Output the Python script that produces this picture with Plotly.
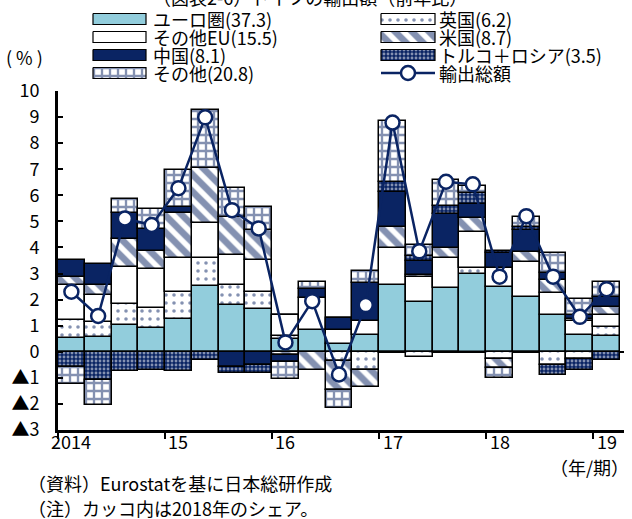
import plotly.graph_objects as go

# ---------------- data (2014Q1 .. 2019Q1) ----------------
quarters = ["2014Q1", "2014Q2", "2014Q3", "2014Q4", "2015Q1", "2015Q2", "2015Q3", "2015Q4",
            "2016Q1", "2016Q2", "2016Q3", "2016Q4", "2017Q1", "2017Q2", "2017Q3", "2017Q4",
            "2018Q1", "2018Q2", "2018Q3", "2018Q4", "2019Q1"]
year_labels = ["2014", "15", "16", "17", "18", "19"]

euro    = [0.54, 0.58, 1.02, 0.90, 1.25, 2.51, 1.79, 1.64, 0.50, 0.83, 0.28, 0.64, 2.56, 1.90, 2.43, 3.00, 2.49, 2.11, 1.41, 0.66, 0.61]
uk      = [0.67, 0.58, 0.83, 0.79, 1.05, 1.07, 0.77, 0.66, 0.10, 0.00, -0.35, -0.70, -0.05, -0.20, -0.06, 0.20, -0.28, -0.02, -0.49, -0.28, 0.35]
otherEU = [1.35, 1.00, 1.39, 1.48, 1.28, 1.34, 1.15, 1.22, 0.80, 1.22, 0.55, 0.54, 1.43, 0.95, 1.18, 1.38, 0.73, 1.32, 0.83, 0.51, 0.45]
usa     = [0.30, 0.41, 1.07, 0.70, 1.73, 2.14, 1.44, 1.15, -0.12, -0.70, -1.10, -0.64, 0.81, 0.08, 0.36, 0.56, -0.33, 0.41, 0.51, 0.10, 0.32]
china   = [0.65, 0.80, 1.00, 0.83, 0.25, 0.00, -0.58, -0.51, -0.28, 0.35, 0.45, 1.44, 1.34, 0.55, 1.30, 0.52, 0.55, 0.83, 0.26, 0.15, 0.38]
turkey  = [-0.58, -1.09, -0.74, -0.70, -0.74, -0.32, -0.25, -0.32, 0.00, 0.00, 0.00, 0.00, 0.36, 0.20, 0.32, 0.43, 0.09, 0.13, -0.41, -0.42, -0.32]
others  = [-0.64, -0.96, 0.53, 0.79, 1.41, 2.21, 1.12, 0.89, -0.65, 0.29, -0.70, 0.47, 2.35, 0.40, 1.00, 0.26, -0.38, 0.38, 0.77, 0.60, 0.58]
total   = [2.30, 1.37, 5.11, 4.86, 6.27, 8.99, 5.43, 4.73, 0.36, 1.94, -0.87, 1.79, 8.79, 3.85, 6.52, 6.42, 2.88, 5.20, 2.88, 1.34, 2.40]

names = ["ユーロ圏(37.3)", "英国(6.2)", "その他EU(15.5)", "米国(8.7)",
         "中国(8.1)", "トルコ＋ロシア(3.5)", "その他(20.8)"]
total_name = "輸出総額"
y_ticks = [-3, -2, -1, 0, 1, 2, 3, 4, 5, 6, 7, 8, 9, 10]
y_ticktext = ["▲3", "▲2", "▲1", "0", "1", "2", "3", "4", "5", "6", "7", "8", "9", "10"]

# ---------------- styles ----------------
NAVY = "#0A2463"
LBLUE = "#92CDDC"
FONT = "Noto Sans CJK JP"

styles = [
    dict(color=LBLUE, pattern=None),
    dict(color="white", pattern=dict(shape=".", fgcolor=NAVY, bgcolor="white", size=8, solidity=0.16)),
    dict(color="white", pattern=None),
    dict(color="white", pattern=dict(shape="\\", fgcolor=NAVY, bgcolor="white", size=12, solidity=0.55)),
    dict(color=NAVY, pattern=None),
    dict(color=NAVY, pattern=dict(shape=".", fgcolor="white", bgcolor=NAVY, size=4, solidity=0.4)),
    dict(color="white", pattern=dict(shape="+", fgcolor=NAVY, bgcolor="white", size=8, solidity=0.5)),
]
series = [euro, uk, otherEU, usa, china, turkey, others]

# ---------------- geometry helpers (pixels -> paper) ----------------
W, H = 632, 519
ML, MR, MT, MB = 58, 8, 0, 89
PW, PH = W - ML - MR, H - MT - MB
TOP = 91  # pixel y of the top of the main plot area


def px(x):
    return (x - ML) / PW


def py(y):
    return (PH - (y - MT)) / PH


fig = go.Figure()
xs = list(range(len(quarters)))

for vals, name, st in zip(series, names, styles):
    marker = dict(color=st["color"], line=dict(color="black", width=1.5))
    if st["pattern"]:
        marker["pattern"] = st["pattern"]
    fig.add_trace(go.Bar(x=xs, y=vals, name=name, marker=marker, showlegend=False,
                         hovertext=quarters))

fig.add_trace(go.Scatter(x=xs, y=total, name=total_name, mode="lines+markers",
                         line=dict(color=NAVY, width=2.5),
                         marker=dict(symbol="circle", size=14, color="white",
                                     line=dict(color=NAVY, width=2.5)),
                         showlegend=False, hovertext=quarters))

# ---------------- manual legend on an auxiliary pixel-scaled axis pair ----------------
rows = [19, 37, 55, 73]
cols = [(93, 146, 151), (381, 435, 437)]
hh = 5.5
annotations = []
for i, (name, st) in enumerate(zip(names, styles)):
    r, c = i // 2, i % 2
    x0, x1, xt = cols[c]
    yc = rows[r]
    sc = dict(x=[x0, x1, x1, x0, x0], y=[yc - hh, yc - hh, yc + hh, yc + hh, yc - hh],
              mode="lines", fill="toself", fillcolor=st["color"],
              line=dict(color="black", width=1.2), xaxis="x2", yaxis="y2",
              showlegend=False, hoverinfo="skip")
    if st["pattern"]:
        sc["fillpattern"] = st["pattern"]
    fig.add_trace(go.Scatter(**sc))
    annotations.append(dict(x=px(xt), y=py(yc), xref="paper", yref="paper", text=name,
                            showarrow=False, xanchor="left", yanchor="middle",
                            font=dict(size=18)))
# line legend entry
x0, x1, xt = cols[1]
yc = rows[3]
fig.add_trace(go.Scatter(x=[x0, x1], y=[yc, yc], mode="lines", line=dict(color=NAVY, width=2.5),
                         xaxis="x2", yaxis="y2", showlegend=False, hoverinfo="skip"))
fig.add_trace(go.Scatter(x=[(x0 + x1) / 2], y=[yc], mode="markers",
                         marker=dict(symbol="circle", size=14, color="white",
                                     line=dict(color=NAVY, width=2.5)),
                         xaxis="x2", yaxis="y2", showlegend=False, hoverinfo="skip"))
annotations.append(dict(x=px(xt), y=py(yc), xref="paper", yref="paper", text=total_name,
                        showarrow=False, xanchor="left", yanchor="middle", font=dict(size=18)))

# x tick labels (centred on first quarter of each year)
for k, lab in enumerate(year_labels):
    annotations.append(dict(x=xs[k * 4], y=py(441), xref="x", yref="paper", text=lab,
                            showarrow=False, xanchor="center", yanchor="middle",
                            font=dict(size=18)))

annotations += [
    dict(x=px(631), y=py(467), xref="paper", yref="paper", text="（年/期）", showarrow=False,
         xanchor="right", yanchor="middle", font=dict(size=18)),
    dict(x=px(24), y=py(57), xref="paper", yref="paper", text="( % )", showarrow=False,
         xanchor="center", yanchor="middle", font=dict(size=18)),
    dict(x=px(26), y=py(483), xref="paper", yref="paper", text="（資料）Eurostatを基に日本総研作成",
         showarrow=False, xanchor="left", yanchor="middle", font=dict(size=18)),
    dict(x=px(26), y=py(508), xref="paper", yref="paper", text="（注）カッコ内は2018年のシェア。",
         showarrow=False, xanchor="left", yanchor="middle", font=dict(size=18)),
    dict(x=px(310), y=py(-3), xref="paper", yref="paper", text="（図表2-6）ドイツの輸出額（前年比）",
         showarrow=False, xanchor="center", yanchor="middle", font=dict(size=18)),
]

main_top = py(TOP)
fig.update_layout(
    width=W, height=H,
    margin=dict(l=ML, r=MR, t=MT, b=MB, pad=0, autoexpand=False),
    paper_bgcolor="white", plot_bgcolor="white",
    font=dict(family=FONT, size=18, color="black"),
    barmode="relative", bargap=0,
    showlegend=False,
    annotations=annotations,
    xaxis=dict(domain=[0, 1], range=[-0.5, len(quarters) - 0.35],
               tickmode="array", tickvals=[k - 0.5 for k in range(0, len(quarters), 4)],
               showticklabels=False, ticks="outside", ticklen=6, tickwidth=2, tickcolor="black",
               showline=True, linecolor="black", linewidth=3, showgrid=False, zeroline=False,
               anchor="y", automargin=False),
    yaxis=dict(domain=[0, main_top], range=[-3, 10], tickmode="array",
               tickvals=y_ticks, ticktext=y_ticktext, ticks="inside", ticklen=5, tickwidth=2,
               tickcolor="black", ticklabelstandoff=12,
               showline=True, linecolor="black", linewidth=3, showgrid=False,
               zeroline=True, zerolinecolor="black", zerolinewidth=2,
               tickfont=dict(size=18), anchor="x", automargin=False),
    xaxis2=dict(domain=[0, 1], range=[ML, W - MR], visible=False, anchor="y2", automargin=False),
    yaxis2=dict(domain=[main_top, 1], range=[TOP, MT], visible=False, anchor="x2", automargin=False),
)

fig.write_html("out.html")
